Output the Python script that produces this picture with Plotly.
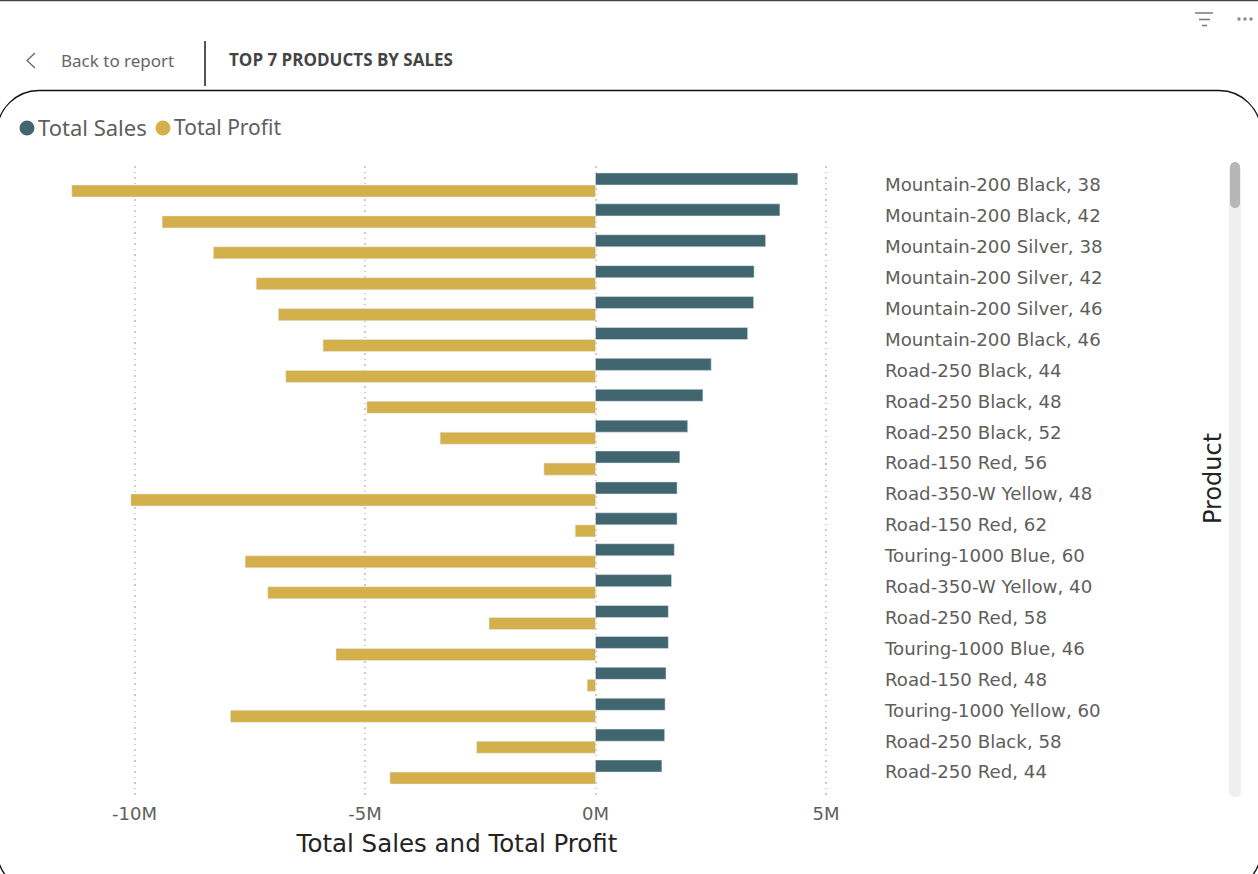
import plotly.graph_objects as go

products = ["Mountain-200 Black, 38", "Mountain-200 Black, 42", "Mountain-200 Silver, 38",
            "Mountain-200 Silver, 42", "Mountain-200 Silver, 46", "Mountain-200 Black, 46",
            "Road-250 Black, 44", "Road-250 Black, 48", "Road-250 Black, 52", "Road-150 Red, 56",
            "Road-350-W Yellow, 48", "Road-150 Red, 62", "Touring-1000 Blue, 60",
            "Road-350-W Yellow, 40", "Road-250 Red, 58", "Touring-1000 Blue, 46",
            "Road-150 Red, 48", "Touring-1000 Yellow, 60", "Road-250 Black, 58", "Road-250 Red, 44"]
total_sales = [4.39, 4.00, 3.69, 3.44, 3.43, 3.30, 2.51, 2.33, 2.00, 1.83,
               1.77, 1.77, 1.71, 1.65, 1.58, 1.58, 1.53, 1.51, 1.50, 1.44]
total_profit = [-11.36, -9.40, -8.29, -7.36, -6.88, -5.91, -6.72, -4.96, -3.37, -1.12,
                -10.08, -0.44, -7.60, -7.11, -2.31, -5.63, -0.18, -7.92, -2.58, -4.46]
x_ticks = [-10, -5, 0, 5]
x_tick_labels = ["-10M", "-5M", "0M", "5M"]

W, H = 1258, 874
L, R, T, B = 39, 875, 166, 798
TEAL, GOLD = "#41666F", "#D4B04C"
GREY_TEXT = "#605E5C"

def px(x):
    return (x - L) / (R - L)
def py(y):
    return (B - y) / (B - T)
def line(x0, y0, x1, y1, color, width):
    return dict(type="line", xref="paper", yref="paper", x0=px(x0), y0=py(y0), x1=px(x1), y1=py(y1),
                line=dict(color=color, width=width), layer="above")
def path(points, color, width, fill=None):
    d = ""
    for cmd, *xy in points:
        d += cmd
        d += " ".join(f"{px(xy[i]):.5f},{py(xy[i+1]):.5f}" for i in range(0, len(xy), 2)) + " "
    return dict(type="path", xref="paper", yref="paper", path=d + ("Z" if fill else ""),
                line=dict(color=color, width=width), fillcolor=fill, layer="above")
def rounded(x0, y0, x1, y1, r, color, width, fill=None):
    k = r * 0.45
    return path([("M", x0 + r, y0), ("L", x1 - r, y0),
                 ("C", x1 - k, y0, x1, y0 + k, x1, y0 + r), ("L", x1, y1 - r),
                 ("C", x1, y1 - k, x1 - k, y1, x1 - r, y1), ("L", x0 + r, y1),
                 ("C", x0 + k, y1, x0, y1 - k, x0, y1 - r), ("L", x0, y0 + r),
                 ("C", x0, y0 + k, x0 + k, y0, x0 + r, y0)], color, width, fill)
def dot(cx, cy, r, color):
    return dict(type="circle", xref="paper", yref="paper", x0=px(cx - r), x1=px(cx + r),
                y0=py(cy + r), y1=py(cy - r), fillcolor=color, line=dict(width=0), layer="above")
def label(x, y, text, size, color, family, anchor="left", angle=0):
    return dict(xref="paper", yref="paper", x=px(x), y=py(y), text=text, showarrow=False,
                xanchor=anchor, yanchor="middle", textangle=angle,
                font=dict(size=size, color=color, family=family))

fig = go.Figure()
fig.add_bar(y=products, x=total_sales, orientation="h", name="Total Sales", marker_color=TEAL)
fig.add_bar(y=products, x=total_profit, orientation="h", name="Total Profit", marker_color=GOLD)

shapes = [
    line(0, 0.5, W, 0.5, "#444444", 1.5),
    rounded(-3, 90.5, W + 3, 892, 42, "#111111", 1.3),
    line(205, 41, 205, 86, "#555555", 2),
    path([("M", 35, 53), ("L", 27, 60.5), ("L", 35, 68)], "#666666", 1.3),
    line(1195, 13, 1213, 13, "#777777", 1.5),
    line(1199, 19.5, 1210, 19.5, "#777777", 1.5),
    line(1202, 25.5, 1207, 25.5, "#777777", 1.5),
    dot(1239, 19, 1.7, "#888888"), dot(1245, 19, 1.7, "#888888"), dot(1251, 19, 1.7, "#888888"),
    rounded(1229, 165, 1241, 797, 5, "#EFEFEF", 0, "#EFEFEF"),
    rounded(1230, 162, 1240, 208, 5, "#B6B6B6", 0, "#B6B6B6"),
    dot(27, 128, 7.5, TEAL),
    dot(163, 128, 7.5, GOLD),
]
annotations = [
    label(59, 60, "Back to report", 17, "#666666", "Noto Sans"),
    label(227, 59.5, "TOP 7 PRODUCTS BY SALES", 17, "#444444", "Open Sans, sans-serif"),
    label(36, 127, "Total Sales", 22, GREY_TEXT, "Noto Sans"),
    label(172, 127, "Total Profit", 21, GREY_TEXT, "Noto Sans"),
    label(1213, 479, "Product", 24, "#252423", "DejaVu Sans", anchor="center", angle=-90),
]
annotations[1]["font"]["weight"] = "bold"

fig.update_layout(
    width=W, height=H, autosize=False,
    margin=dict(l=L, r=W - R, t=T, b=H - B, pad=0),
    paper_bgcolor="white", plot_bgcolor="white",
    barmode="group", bargap=0.22, bargroupgap=0,
    shapes=shapes, annotations=annotations,
    showlegend=False,
    xaxis=dict(range=[(L - 595.5) / 46.1, (R - 595.5) / 46.1], tickvals=x_ticks, ticktext=x_tick_labels,
               showgrid=True, gridcolor="#CCCCCC", griddash="1.5px,4px", gridwidth=1.5, zeroline=False, showline=False,
               ticks="", ticklabelstandoff=3, automargin=True,
               tickfont=dict(family="DejaVu Sans", size=18, color=GREY_TEXT),
               title=dict(text="Total Sales and Total Profit", standoff=11,
                          font=dict(family="DejaVu Sans", size=24.5, color="#252423"))),
    yaxis=dict(side="right", type="category", categoryorder="array", categoryarray=products,
               range=[19.84, -0.615], showgrid=False, zeroline=False, showline=False, ticks="",
               ticklabelstandoff=9, automargin=False,
               tickfont=dict(family="DejaVu Sans", size=18.2, color=GREY_TEXT)),
)

post = ("document.documentElement.style.overflow='hidden';document.body.style.margin='0';"
        "document.body.style.background='white';")
fig.write_html("out.html", post_script=post, config=dict(displayModeBar=False))
